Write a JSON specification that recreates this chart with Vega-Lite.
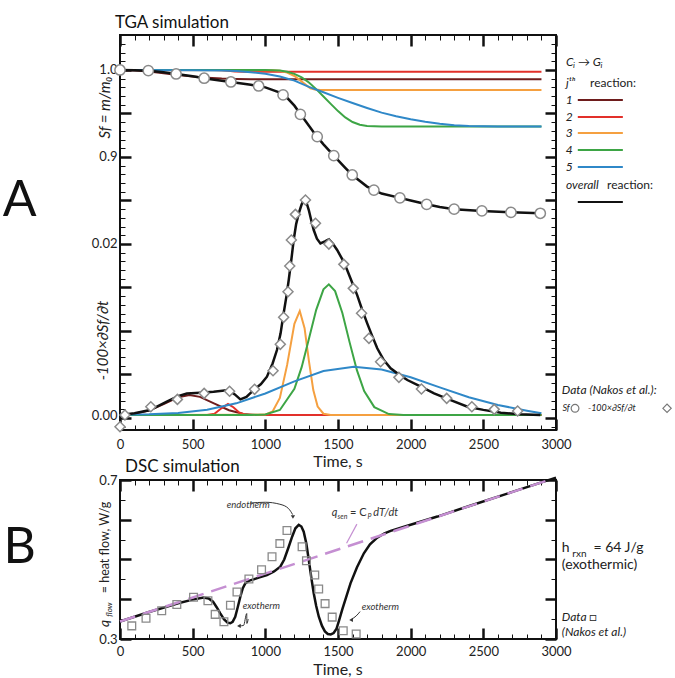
{
"$schema":"https://vega.github.io/schema/vega-lite/v6.json",
"autosize":{"type":"none"},
"padding":{"left":120,"top":35,"right":555,"bottom":643},
"bounds":"flush",
"spacing":50,
"config":{
 "font":"Lato",
 "view":{"stroke":"#111","strokeWidth":2},
 "axis":{"labelFontSize":13,"labelColor":"#222","tickColor":"#111","titleColor":"#222","titleFontWeight":"normal","grid":false,"domain":false,"labelOverlap":false,"labelFlush":false,"labelBound":false},
 "title":{"fontSize":17,"fontWeight":"normal","anchor":"start","frame":"group","color":"#111"},
 "text":{"color":"#222"}
},
"datasets":{
 "sfc":[
  {"t":0,"s":1.0,"r":"1"},{"t":100,"s":0.9995,"r":"1"},{"t":200,"s":0.9982,"r":"1"},{"t":300,"s":0.9962,"r":"1"},{"t":400,"s":0.9942,"r":"1"},{"t":500,"s":0.9925,"r":"1"},{"t":600,"s":0.9912,"r":"1"},{"t":700,"s":0.9902,"r":"1"},{"t":800,"s":0.9896,"r":"1"},{"t":900,"s":0.9893,"r":"1"},{"t":2900,"s":0.9893,"r":"1"},
  {"t":0,"s":1.0,"r":"2"},{"t":650,"s":1.0,"r":"2"},{"t":700,"s":0.9997,"r":"2"},{"t":743,"s":0.999,"r":"2"},{"t":790,"s":0.9983,"r":"2"},{"t":850,"s":0.998,"r":"2"},{"t":2900,"s":0.998,"r":"2"},
  {"t":0,"s":1.0,"r":"3"},{"t":1050,"s":0.9998,"r":"3"},{"t":1100,"s":0.9991,"r":"3"},{"t":1150,"s":0.997,"r":"3"},{"t":1200,"s":0.9931,"r":"3"},{"t":1240,"s":0.988,"r":"3"},{"t":1270,"s":0.984,"r":"3"},{"t":1310,"s":0.9789,"r":"3"},{"t":1340,"s":0.9775,"r":"3"},{"t":1380,"s":0.977,"r":"3"},{"t":2900,"s":0.977,"r":"3"},
  {"t":0,"s":1.0,"r":"4"},{"t":1000,"s":1.0,"r":"4"},{"t":1100,"s":0.9995,"r":"4"},{"t":1150,"s":0.998,"r":"4"},{"t":1200,"s":0.9955,"r":"4"},{"t":1250,"s":0.9915,"r":"4"},{"t":1300,"s":0.9857,"r":"4"},{"t":1350,"s":0.978,"r":"4"},{"t":1400,"s":0.9695,"r":"4"},{"t":1450,"s":0.961,"r":"4"},{"t":1500,"s":0.9527,"r":"4"},{"t":1550,"s":0.9455,"r":"4"},{"t":1600,"s":0.9402,"r":"4"},{"t":1650,"s":0.937,"r":"4"},{"t":1700,"s":0.9357,"r":"4"},{"t":1800,"s":0.935,"r":"4"},{"t":2900,"s":0.935,"r":"4"},
  {"t":0,"s":1.0,"r":"5"},{"t":500,"s":0.9998,"r":"5"},{"t":700,"s":0.9993,"r":"5"},{"t":800,"s":0.9987,"r":"5"},{"t":900,"s":0.9975,"r":"5"},{"t":1000,"s":0.9957,"r":"5"},{"t":1100,"s":0.9925,"r":"5"},{"t":1200,"s":0.9878,"r":"5"},{"t":1300,"s":0.9805,"r":"5"},{"t":1400,"s":0.9744,"r":"5"},{"t":1500,"s":0.968,"r":"5"},{"t":1600,"s":0.962,"r":"5"},{"t":1700,"s":0.9563,"r":"5"},{"t":1800,"s":0.951,"r":"5"},{"t":1900,"s":0.9468,"r":"5"},{"t":2000,"s":0.9433,"r":"5"},{"t":2100,"s":0.9404,"r":"5"},{"t":2200,"s":0.9381,"r":"5"},{"t":2300,"s":0.9365,"r":"5"},{"t":2400,"s":0.9355,"r":"5"},{"t":2600,"s":0.935,"r":"5"},{"t":2900,"s":0.935,"r":"5"}
 ],
 "sfb":[
  {"t":0,"s":1.0},{"t":100,"s":0.9998},{"t":200,"s":0.999},{"t":300,"s":0.9975},{"t":400,"s":0.9952},{"t":500,"s":0.9928},{"t":600,"s":0.99},{"t":700,"s":0.9875},{"t":800,"s":0.9852},{"t":900,"s":0.983},{"t":1000,"s":0.98},{"t":1100,"s":0.974},{"t":1150,"s":0.968},{"t":1200,"s":0.959},{"t":1250,"s":0.9475},{"t":1300,"s":0.936},{"t":1350,"s":0.9245},{"t":1400,"s":0.9145},{"t":1471,"s":0.9015},{"t":1550,"s":0.8875},{"t":1600,"s":0.879},{"t":1700,"s":0.866},{"t":1800,"s":0.858},{"t":1926,"s":0.853},{"t":2000,"s":0.85},{"t":2110,"s":0.8456},{"t":2200,"s":0.8425},{"t":2300,"s":0.84},{"t":2490,"s":0.838},{"t":2690,"s":0.8364},{"t":2892,"s":0.8353}
 ],
 "sfd":[
  {"t":0,"s":1.0},{"t":195,"s":0.9992},{"t":386,"s":0.9954},{"t":579,"s":0.9905},{"t":763,"s":0.9862},{"t":954,"s":0.9816},{"t":1122,"s":0.9713},{"t":1241,"s":0.949},{"t":1357,"s":0.9233},{"t":1471,"s":0.9015},{"t":1598,"s":0.8793},{"t":1747,"s":0.862},{"t":1926,"s":0.853},{"t":2110,"s":0.8456},{"t":2299,"s":0.84},{"t":2490,"s":0.838},{"t":2690,"s":0.8364},{"t":2892,"s":0.8353}
 ],
 "leg":[
  {"t":3150,"t2":3460,"s":0.9655,"r":"1"},{"t":3150,"t2":3460,"s":0.946,"r":"2"},{"t":3150,"t2":3460,"s":0.9276,"r":"3"},{"t":3150,"t2":3460,"s":0.908,"r":"4"},{"t":3150,"t2":3460,"s":0.8885,"r":"5"},{"t":3150,"t2":3460,"s":0.8483,"r":"k"}
 ],
 "dc":[
  {"t":0,"d":0.00003,"r":"1"},{"t":100,"d":0.00015,"r":"1"},{"t":200,"d":0.00052,"r":"1"},{"t":300,"d":0.00126,"r":"1"},{"t":400,"d":0.00207,"r":"1"},{"t":478,"d":0.00233,"r":"1"},{"t":550,"d":0.00211,"r":"1"},{"t":650,"d":0.00132,"r":"1"},{"t":750,"d":0.00056,"r":"1"},{"t":850,"d":0.00012,"r":"1"},{"t":950,"d":0,"r":"1"},{"t":2900,"d":0,"r":"1"},
  {"t":0,"d":0,"r":"2"},{"t":600,"d":0,"r":"2"},{"t":650,"d":0.00015,"r":"2"},{"t":700,"d":0.00081,"r":"2"},{"t":743,"d":0.00128,"r":"2"},{"t":780,"d":0.00091,"r":"2"},{"t":820,"d":0.0003,"r":"2"},{"t":860,"d":0.00004,"r":"2"},{"t":900,"d":0,"r":"2"},{"t":2900,"d":0,"r":"2"},
  {"t":0,"d":0,"r":"3"},{"t":1000,"d":0.00005,"r":"3"},{"t":1050,"d":0.00041,"r":"3"},{"t":1100,"d":0.00198,"r":"3"},{"t":1150,"d":0.00583,"r":"3"},{"t":1200,"d":0.0106,"r":"3"},{"t":1237,"d":0.0121,"r":"3"},{"t":1270,"d":0.0101,"r":"3"},{"t":1300,"d":0.00628,"r":"3"},{"t":1330,"d":0.0029,"r":"3"},{"t":1360,"d":0.00099,"r":"3"},{"t":1400,"d":0.00015,"r":"3"},{"t":1450,"d":0,"r":"3"},{"t":2900,"d":0,"r":"3"},
  {"t":0,"d":0,"r":"4"},{"t":900,"d":0,"r":"4"},{"t":1000,"d":0.00006,"r":"4"},{"t":1100,"d":0.00059,"r":"4"},{"t":1200,"d":0.00304,"r":"4"},{"t":1250,"d":0.00557,"r":"4"},{"t":1300,"d":0.00887,"r":"4"},{"t":1350,"d":0.01223,"r":"4"},{"t":1400,"d":0.01462,"r":"4"},{"t":1437,"d":0.0152,"r":"4"},{"t":1480,"d":0.01441,"r":"4"},{"t":1530,"d":0.01186,"r":"4"},{"t":1580,"d":0.00845,"r":"4"},{"t":1630,"d":0.00522,"r":"4"},{"t":1680,"d":0.0028,"r":"4"},{"t":1750,"d":0.00092,"r":"4"},{"t":1850,"d":0.00011,"r":"4"},{"t":1950,"d":0,"r":"4"},{"t":2900,"d":0,"r":"4"},
  {"t":0,"d":0.00002,"r":"5"},{"t":200,"d":0.00008,"r":"5"},{"t":400,"d":0.00024,"r":"5"},{"t":600,"d":0.00062,"r":"5"},{"t":800,"d":0.00136,"r":"5"},{"t":1000,"d":0.00251,"r":"5"},{"t":1200,"d":0.00391,"r":"5"},{"t":1400,"d":0.00511,"r":"5"},{"t":1609,"d":0.00562,"r":"5"},{"t":1800,"d":0.0053,"r":"5"},{"t":2000,"d":0.0044,"r":"5"},{"t":2200,"d":0.00322,"r":"5"},{"t":2400,"d":0.00207,"r":"5"},{"t":2600,"d":0.00117,"r":"5"},{"t":2800,"d":0.0005,"r":"5"},{"t":2900,"d":0.0002,"r":"5"}
 ],
 "db":[
  {"t":0,"d":0},{"t":100,"d":0.0002},{"t":207,"d":0.00058},{"t":322,"d":0.00155},{"t":400,"d":0.0022},{"t":460,"d":0.0025},{"t":552,"d":0.0026},{"t":644,"d":0.0027},{"t":747,"d":0.0029},{"t":790,"d":0.0024},{"t":828,"d":0.00182},{"t":870,"d":0.0021},{"t":919,"d":0.0029},{"t":970,"d":0.0036},{"t":1011,"d":0.00446},{"t":1050,"d":0.006},{"t":1080,"d":0.00756},{"t":1105,"d":0.0095},{"t":1126,"d":0.01183},{"t":1145,"d":0.0138},{"t":1161,"d":0.0157},{"t":1180,"d":0.0182},{"t":1195,"d":0.02035},{"t":1212,"d":0.0222},{"t":1230,"d":0.02345},{"t":1250,"d":0.0245},{"t":1269,"d":0.02508},{"t":1285,"d":0.0246},{"t":1299,"d":0.02384},{"t":1315,"d":0.0227},{"t":1333,"d":0.02151},{"t":1355,"d":0.0205},{"t":1379,"d":0.01996},{"t":1410,"d":0.0202},{"t":1437,"d":0.02043},{"t":1465,"d":0.0199},{"t":1494,"d":0.01919},{"t":1530,"d":0.0181},{"t":1563,"d":0.01686},{"t":1600,"d":0.0153},{"t":1632,"d":0.01395},{"t":1665,"d":0.0123},{"t":1701,"d":0.01066},{"t":1735,"d":0.0092},{"t":1770,"d":0.00776},{"t":1815,"d":0.0064},{"t":1862,"d":0.00543},{"t":1920,"d":0.0047},{"t":1977,"d":0.00407},{"t":2070,"d":0.0033},{"t":2161,"d":0.00252},{"t":2280,"d":0.0017},{"t":2391,"d":0.00097},{"t":2500,"d":0.0006},{"t":2621,"d":0.00027},{"t":2750,"d":0.0001},{"t":2892,"d":0}
 ],
 "dd":[
  {"t":0,"d":-0.00136},{"t":34,"d":0},{"t":212,"d":0.00097},{"t":395,"d":0.00182},{"t":579,"d":0.00252},{"t":754,"d":0.00276},{"t":926,"d":0.00299},{"t":1053,"d":0.00515},{"t":1103,"d":0.00822},{"t":1126,"d":0.01136},{"t":1156,"d":0.01434},{"t":1168,"d":0.01733},{"t":1179,"d":0.02035},{"t":1207,"d":0.02333},{"t":1276,"d":0.025},{"t":1345,"d":0.02229},{"t":1437,"d":0.01988},{"t":1540,"d":0.01752},{"t":1605,"d":0.01473},{"t":1662,"d":0.01183},{"t":1713,"d":0.00892},{"t":1793,"d":0.0062},{"t":1919,"d":0.00438},{"t":2074,"d":0.00302},{"t":2248,"d":0.00194},{"t":2421,"d":0.00097},{"t":2575,"d":0.00066},{"t":2736,"d":0.00047}
 ],
 "dscb":[
  {"t":0,"q":0.344},{"t":200,"q":0.368},{"t":400,"q":0.39},{"t":500,"q":0.399},{"t":575,"q":0.4045},{"t":610,"q":0.402},{"t":640,"q":0.394},{"t":665,"q":0.38},{"t":690,"q":0.3646},{"t":715,"q":0.35},{"t":740,"q":0.341},{"t":759,"q":0.3395},{"t":775,"q":0.343},{"t":793,"q":0.356},{"t":810,"q":0.38},{"t":828,"q":0.4064},{"t":845,"q":0.428},{"t":862,"q":0.44},{"t":890,"q":0.447},{"t":919,"q":0.45},{"t":960,"q":0.455},{"t":1011,"q":0.461},{"t":1060,"q":0.47},{"t":1103,"q":0.482},{"t":1130,"q":0.5},{"t":1161,"q":0.532},{"t":1185,"q":0.558},{"t":1207,"q":0.5785},{"t":1230,"q":0.587},{"t":1248,"q":0.583},{"t":1264,"q":0.57},{"t":1282,"q":0.54},{"t":1299,"q":0.4987},{"t":1316,"q":0.455},{"t":1333,"q":0.415},{"t":1350,"q":0.383},{"t":1368,"q":0.356},{"t":1390,"q":0.333},{"t":1410,"q":0.319},{"t":1430,"q":0.3125},{"t":1450,"q":0.3115},{"t":1470,"q":0.315},{"t":1490,"q":0.326},{"t":1506,"q":0.345},{"t":1530,"q":0.375},{"t":1560,"q":0.41},{"t":1586,"q":0.44},{"t":1630,"q":0.48},{"t":1678,"q":0.5156},{"t":1720,"q":0.538},{"t":1770,"q":0.555},{"t":1820,"q":0.566},{"t":1862,"q":0.572},{"t":1977,"q":0.585},{"t":2184,"q":0.608},{"t":2414,"q":0.636},{"t":2700,"q":0.67},{"t":3000,"q":0.706}
 ],
 "dscp":[{"t":0,"q":0.344},{"t":2950,"q":0.7}],
 "dscs":[
  {"t":81,"q":0.333},{"t":179,"q":0.352},{"t":287,"q":0.371},{"t":391,"q":0.387},{"t":506,"q":0.405},{"t":605,"q":0.396},{"t":655,"q":0.362},{"t":715,"q":0.3435},{"t":760,"q":0.385},{"t":805,"q":0.418},{"t":887,"q":0.451},{"t":974,"q":0.474},{"t":1046,"q":0.507},{"t":1100,"q":0.54},{"t":1149,"q":0.573},{"t":1253,"q":0.532},{"t":1283,"q":0.497},{"t":1340,"q":0.461},{"t":1367,"q":0.426},{"t":1411,"q":0.389},{"t":1460,"q":0.355},{"t":1536,"q":0.321},{"t":1625,"q":0.3126}
 ],
 "arrows":[
  {"t":894,"q":0.642,"g":"a"},{"t":1000,"q":0.644,"g":"a"},{"t":1100,"q":0.639,"g":"a"},{"t":1160,"q":0.628,"g":"a"},{"t":1188,"q":0.613,"g":"a"},
  {"t":872,"q":0.364,"g":"b"},{"t":882,"q":0.35,"g":"b"},{"t":873,"q":0.339,"g":"b"},{"t":850,"q":0.334,"g":"b"},{"t":822,"q":0.333,"g":"b"},
  {"t":1652,"q":0.369,"g":"c"},{"t":1625,"q":0.358,"g":"c"},{"t":1595,"q":0.35,"g":"c"}
 ]
},
"vconcat":[
 {
  "width":436,"height":395,
  "title":{"text":"TGA simulation","dx":-5,"offset":-3},
  "layer":[
   {
    "encoding":{
     "x":{"field":"t","type":"quantitative","scale":{"domain":[0,3000],"nice":false,"zero":false},
      "axis":{"orient":"bottom","values":[0,100,200,300,400,500,600,700,800,900,1000,1100,1200,1300,1400,1500,1600,1700,1800,1900,2000,2100,2200,2300,2400,2500,2600,2700,2800,2900,3000],
       "labelExpr":"datum.value % 500 === 0 ? format(datum.value,'d') : ''",
       "tickSize":{"condition":{"test":"datum.value % 500 === 0","value":-11},"value":-5},
       "tickWidth":{"condition":{"test":"datum.value % 500 === 0","value":2.5},"value":1},
       "labelPadding":19,"title":null}},
     "y":{"field":"s","type":"quantitative","scale":{"domain":[0.5862,1.0402],"nice":false,"zero":false},
      "axis":{"orient":"left","values":[0.59,0.6,0.61,0.62,0.63,0.64,0.65,0.66,0.67,0.68,0.69,0.7,0.71,0.72,0.73,0.74,0.75,0.76,0.77,0.78,0.79,0.8,0.81,0.82,0.83,0.84,0.85,0.86,0.87,0.88,0.89,0.9,0.91,0.92,0.93,0.94,0.95,0.96,0.97,0.98,0.99,1,1.01,1.02,1.03,1.04],
       "labelExpr":"datum.value === 1 ? '1.0' : (datum.value === 0.9 ? '0.9' : '')",
       "tickSize":{"condition":{"test":"round(datum.value*100) % 5 === 0","value":-11},"value":-5},
       "tickWidth":{"condition":{"test":"round(datum.value*100) % 5 === 0","value":2.5},"value":1},
       "labelPadding":14,"title":"Sf = m/m₀","titleFontStyle":"italic","titleFontSize":15,"titleAngle":270,"titleBaseline":"bottom","titleAlign":"center","titleX":-8,"titleY":72}}
    },
    "layer":[
     {"data":{"name":"sfc"},"mark":{"type":"line","strokeWidth":2},"encoding":{"color":{"field":"r","type":"nominal","scale":{"domain":["1","2","3","4","5","k"],"range":["#6e1c1c","#e2302a","#f5a040","#3da545","#2f88c8","#111111"]},"legend":null}}},
     {"data":{"name":"sfb"},"mark":{"type":"line","color":"#111","strokeWidth":2.5}},
     {"data":{"name":"sfd"},"mark":{"type":"point","shape":"circle","filled":true,"fill":"white","stroke":"#8a8a8a","strokeWidth":1.5,"size":105,"opacity":1}},
     {"data":{"name":"leg"},"mark":{"type":"rule","strokeWidth":2},"encoding":{"x2":{"field":"t2"},"color":{"field":"r","type":"nominal","scale":{"domain":["1","2","3","4","5","k"],"range":["#6e1c1c","#e2302a","#f5a040","#3da545","#2f88c8","#111111"]},"legend":null}}},
     {"data":{"values":[{"t":3069,"s":1.009,"label":"Cᵢ → Gᵢ"},{"t":3069,"s":0.985,"label":"jᵗʰ"},{"t":3069,"s":0.868,"label":"overall"}]},"mark":{"type":"text","fontSize":12,"fontStyle":"italic","align":"left","baseline":"middle"},"encoding":{"text":{"field":"label"}}},
     {"data":{"values":[{"t":3234,"s":0.985,"label":"reaction:"},{"t":3351,"s":0.868,"label":"reaction:"}]},"mark":{"type":"text","fontSize":12,"align":"left","baseline":"middle"},"encoding":{"text":{"field":"label"}}},
     {"data":{"values":[{"t":3115,"s":0.9655,"label":"1"},{"t":3115,"s":0.946,"label":"2"},{"t":3115,"s":0.9276,"label":"3"},{"t":3115,"s":0.908,"label":"4"},{"t":3115,"s":0.8885,"label":"5"}]},"mark":{"type":"text","fontSize":12,"fontStyle":"italic","align":"right","baseline":"middle"},"encoding":{"text":{"field":"label"}}},
     {"data":{"values":[{"t":1500,"s":0.5494,"label":"Time, s"}]},"mark":{"type":"text","fontSize":16,"align":"center","baseline":"middle"},"encoding":{"text":{"field":"label"}}},
     {"data":{"values":[{"t":-690,"s":0.849,"label":"A"}]},"mark":{"type":"text","fontSize":50,"align":"center","baseline":"middle","color":"#111"},"encoding":{"text":{"field":"label"}}}
    ]
   },
   {
    "encoding":{
     "x":{"field":"t","type":"quantitative","scale":{"domain":[0,3000],"nice":false,"zero":false},"axis":null},
     "y":{"field":"d","type":"quantitative","scale":{"domain":[-0.00174,0.04419],"nice":false,"zero":false},
      "axis":{"orient":"left","values":[0,0.02],"labelExpr":"format(datum.value,'.2f')","ticks":false,"labelPadding":3,
       "title":"-100×∂Sf/∂t","titleFontStyle":"italic","titleFontSize":15,"titleAngle":270,"titleBaseline":"bottom","titleAlign":"center","titleX":-10,"titleY":305}}
    },
    "layer":[
     {"data":{"name":"dc"},"mark":{"type":"line","strokeWidth":2},"encoding":{"color":{"field":"r","type":"nominal","scale":{"domain":["1","2","3","4","5","k"],"range":["#6e1c1c","#e2302a","#f5a040","#3da545","#2f88c8","#111111"]},"legend":null}}},
     {"data":{"name":"db"},"mark":{"type":"line","color":"#111","strokeWidth":2.5}},
     {"data":{"name":"dd"},"mark":{"type":"point","shape":"diamond","filled":true,"fill":"white","stroke":"#8a8a8a","strokeWidth":1.5,"size":100,"opacity":1}},
     {"data":{"values":[{"t":3131,"d":0.00078}]},"mark":{"type":"point","shape":"circle","filled":true,"fill":"white","stroke":"#777","strokeWidth":1.2,"size":60,"opacity":1}},
     {"data":{"values":[{"t":3764,"d":0.00078}]},"mark":{"type":"point","shape":"diamond","filled":true,"fill":"white","stroke":"#777","strokeWidth":1.2,"size":70,"opacity":1}},
     {"data":{"values":[{"t":3040,"d":0.0029,"label":"Data (Nakos et al.):"}]},"mark":{"type":"text","fontSize":12,"fontStyle":"italic","align":"left","baseline":"middle"},"encoding":{"text":{"field":"label"}}},
     {"data":{"values":[{"t":3044,"d":0.00078,"label":"Sf"},{"t":3220,"d":0.00078,"label":"-100×∂Sf/∂t"}]},"mark":{"type":"text","fontSize":9,"fontStyle":"italic","align":"left","baseline":"middle"},"encoding":{"text":{"field":"label"}}}
    ]
   },
   {
    "data":{"name":"sfd"},
    "mark":{"type":"point","opacity":0},
    "encoding":{
     "x":{"field":"t","type":"quantitative","scale":{"domain":[0,3000],"nice":false,"zero":false},
      "axis":{"orient":"top","values":[0,100,200,300,400,500,600,700,800,900,1000,1100,1200,1300,1400,1500,1600,1700,1800,1900,2000,2100,2200,2300,2400,2500,2600,2700,2800,2900,3000],"labels":false,"title":null,
       "tickSize":{"condition":{"test":"datum.value % 500 === 0","value":-11},"value":-5},
       "tickWidth":{"condition":{"test":"datum.value % 500 === 0","value":2.5},"value":1}}},
     "y":{"field":"s","type":"quantitative","scale":{"domain":[0.5862,1.0402],"nice":false,"zero":false},
      "axis":{"orient":"right","values":[0.59,0.6,0.61,0.62,0.63,0.64,0.65,0.66,0.67,0.68,0.69,0.7,0.71,0.72,0.73,0.74,0.75,0.76,0.77,0.78,0.79,0.8,0.81,0.82,0.83,0.84,0.85,0.86,0.87,0.88,0.89,0.9,0.91,0.92,0.93,0.94,0.95,0.96,0.97,0.98,0.99,1,1.01,1.02,1.03,1.04],"labels":false,"title":null,
       "tickSize":{"condition":{"test":"round(datum.value*100) % 5 === 0","value":-11},"value":-5},
       "tickWidth":{"condition":{"test":"round(datum.value*100) % 5 === 0","value":2.5},"value":1}}}
    }
   }
  ],
  "resolve":{"scale":{"y":"independent"},"axis":{"x":"independent","y":"independent"}}
 },
 {
  "width":436,"height":159,
  "title":{"text":"DSC simulation","dx":5,"offset":-3},
  "encoding":{
   "x":{"field":"t","type":"quantitative","scale":{"domain":[0,3000],"nice":false,"zero":false},"axis":null},
   "y":{"field":"q","type":"quantitative","scale":{"domain":[0.3,0.7],"nice":false,"zero":false},"axis":null}
  },
  "layer":[
   {"data":{"name":"dscb"},"mark":{"type":"line","color":"#111","strokeWidth":2.5},
    "encoding":{
     "x":{"field":"t","type":"quantitative","scale":{"domain":[0,3000],"nice":false,"zero":false},
      "axis":{"orient":"bottom","values":[0,100,200,300,400,500,600,700,800,900,1000,1100,1200,1300,1400,1500,1600,1700,1800,1900,2000,2100,2200,2300,2400,2500,2600,2700,2800,2900,3000],
       "labelExpr":"datum.value % 500 === 0 ? format(datum.value,'d') : ''",
       "tickSize":{"condition":{"test":"datum.value % 500 === 0","value":-11},"value":-5},
       "tickWidth":{"condition":{"test":"datum.value % 500 === 0","value":2.5},"value":1},
       "labelPadding":17,"title":null}},
     "y":{"field":"q","type":"quantitative","scale":{"domain":[0.3,0.7],"nice":false,"zero":false},
      "axis":{"orient":"left","values":[0.3,0.35,0.4,0.45,0.5,0.55,0.6,0.65,0.7],
       "labelExpr":"datum.value === 0.3 ? '0.3' : (datum.value === 0.7 ? '0.7' : '')",
       "tickSize":{"condition":{"test":"round(datum.value*100) % 10 === 0","value":-11},"value":-5},
       "tickWidth":{"condition":{"test":"round(datum.value*100) % 10 === 0","value":2.5},"value":1},
       "labelPadding":14,"title":null}}
    }},
   {"data":{"name":"dscp"},"mark":{"type":"line","color":"#c58fd2","strokeWidth":2.5,"strokeDash":[16,8]},
    "encoding":{
     "x":{"field":"t","type":"quantitative","scale":{"domain":[0,3000],"nice":false,"zero":false},
      "axis":{"orient":"top","values":[0,100,200,300,400,500,600,700,800,900,1000,1100,1200,1300,1400,1500,1600,1700,1800,1900,2000,2100,2200,2300,2400,2500,2600,2700,2800,2900,3000],"labels":false,"title":null,
       "tickSize":{"condition":{"test":"datum.value % 500 === 0","value":-11},"value":-5},
       "tickWidth":{"condition":{"test":"datum.value % 500 === 0","value":2.5},"value":1}}},
     "y":{"field":"q","type":"quantitative","scale":{"domain":[0.3,0.7],"nice":false,"zero":false},
      "axis":{"orient":"right","values":[0.3,0.35,0.4,0.45,0.5,0.55,0.6,0.65,0.7],"labels":false,"title":null,
       "tickSize":{"condition":{"test":"round(datum.value*100) % 10 === 0","value":-11},"value":-5},
       "tickWidth":{"condition":{"test":"round(datum.value*100) % 10 === 0","value":2.5},"value":1}}}
    }},
   {"data":{"name":"dscs"},"mark":{"type":"point","shape":"square","filled":false,"stroke":"#8a8a8a","strokeWidth":1.3,"size":60,"opacity":1}},
   {"data":{"name":"arrows"},"mark":{"type":"line","color":"#333","strokeWidth":1,"interpolate":"monotone"},"encoding":{"detail":{"field":"g"}}},
   {"data":{"values":[{"t":1630,"q":0.589},{"t":1559,"q":0.541}]},"mark":{"type":"line","color":"#c58fd2","strokeWidth":1.2}},
   {"data":{"values":[{"t":1190,"q":0.607}]},"mark":{"type":"point","shape":"triangle-down","filled":true,"color":"#333","size":18,"opacity":1}},
   {"data":{"values":[{"t":818,"q":0.333},{"t":1590,"q":0.348}]},"mark":{"type":"point","shape":"triangle-left","filled":true,"color":"#333","size":18,"opacity":1}},
   {"data":{"values":[{"t":734,"q":0.637,"label":"endotherm"},{"t":844,"q":0.383,"label":"exotherm"},{"t":1663,"q":0.38,"label":"exotherm"}]},"mark":{"type":"text","fontSize":9.5,"fontStyle":"italic","align":"left","baseline":"middle","color":"#333"},"encoding":{"text":{"field":"label"}}},
   {"data":{"values":[{"t":1457,"q":0.616,"label":"q"},{"t":1742,"q":0.616,"label":"dT/dt"}]},"mark":{"type":"text","fontSize":11,"fontStyle":"italic","align":"left","baseline":"middle","color":"#333"},"encoding":{"text":{"field":"label"}}},
   {"data":{"values":[{"t":1583,"q":0.616,"label":"= C"}]},"mark":{"type":"text","fontSize":11,"align":"left","baseline":"middle","color":"#333"},"encoding":{"text":{"field":"label"}}},
   {"data":{"values":[{"t":1497,"q":0.607,"label":"sen"},{"t":1703,"q":0.607,"label":"P"}]},"mark":{"type":"text","fontSize":7,"fontStyle":"italic","align":"left","baseline":"middle","color":"#333"},"encoding":{"text":{"field":"label"}}},
   {"data":{"values":[{"t":3040,"q":0.528,"label":"h"},{"t":3258,"q":0.528,"label":"= 64 J/g"},{"t":3040,"q":0.486,"label":"(exothermic)"}]},"mark":{"type":"text","fontSize":14,"align":"left","baseline":"middle"},"encoding":{"text":{"field":"label"}}},
   {"data":{"values":[{"t":3112,"q":0.514,"label":"rxn"}]},"mark":{"type":"text","fontSize":10,"align":"left","baseline":"middle"},"encoding":{"text":{"field":"label"}}},
   {"data":{"values":[{"t":3040,"q":0.356,"label":"Data □"},{"t":3040,"q":0.318,"label":"(Nakos et al.)"}]},"mark":{"type":"text","fontSize":12,"fontStyle":"italic","align":"left","baseline":"middle"},"encoding":{"text":{"field":"label"}}},
   {"data":{"values":[{"t":1500,"q":0.222,"label":"Time, s"}]},"mark":{"type":"text","fontSize":16,"align":"center","baseline":"middle"},"encoding":{"text":{"field":"label"}}},
   {"data":{"values":[{"t":-103,"q":0.33,"label":"q"}]},"mark":{"type":"text","fontSize":14,"fontStyle":"italic","align":"left","baseline":"middle","angle":270},"encoding":{"text":{"field":"label"}}},
   {"data":{"values":[{"t":-72,"q":0.356,"label":"flow"}]},"mark":{"type":"text","fontSize":8,"fontStyle":"italic","align":"left","baseline":"middle","angle":270},"encoding":{"text":{"field":"label"}}},
   {"data":{"values":[{"t":-100,"q":0.415,"label":"= heat flow, W/g"}]},"mark":{"type":"text","fontSize":12.5,"align":"left","baseline":"middle","angle":270},"encoding":{"text":{"field":"label"}}},
   {"data":{"values":[{"t":-690,"q":0.53,"label":"B"}]},"mark":{"type":"text","fontSize":50,"align":"center","baseline":"middle","color":"#111"},"encoding":{"text":{"field":"label"}}}
  ],
  "resolve":{"axis":{"x":"independent","y":"independent"}}
 }
]
}
